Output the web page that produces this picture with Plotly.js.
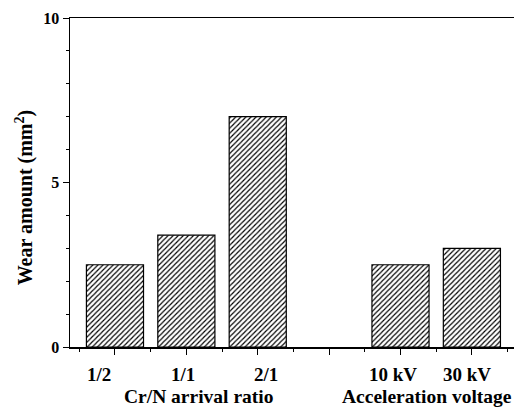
<!DOCTYPE html>
<html>
<head>
<meta charset="utf-8">
<script src="https://cdn.plot.ly/plotly-3.0.1.min.js"></script>
<style>html,body{margin:0;padding:0;background:#fff;}#chart{width:514px;height:407px;}</style>
</head>
<body>
<div id="chart"></div>
<script>
// Data
const categories = ['1/2', '1/1', '2/1', '', '10 kV', '30 kV'];
const wearAmount = [2.5, 3.4, 7.0, null, 2.5, 3.0];
const groupTitles = ['Cr/N arrival ratio', 'Acceleration voltage'];
const yTitle = 'Wear amount (mm<sup>2</sup>)';
const yTickVals = [0, 5, 10];

const positions = categories.map((c, i) => i);
const FONT = '"Liberation Serif", "Times New Roman", serif';

// label placement nudges (layout only), in category units
const labelShift = [-0.22, -0.05, 0.12, 0, -0.1, -0.07];
const groupCenters = [1.17, 4.37];

const trace = {
  type: 'bar',
  x: positions,
  y: wearAmount,
  width: 0.8,
  marker: {
    color: '#ffffff',
    line: {color: '#000000', width: 1.2},
    pattern: {shape: '/', size: 3.6, solidity: 0.33, fgcolor: '#000000', bgcolor: '#ffffff'}
  },
  hoverinfo: 'skip'
};

const labelFont = {family: FONT, size: 19, color: '#000', weight: 'bold'};
const groupFont = {family: FONT, size: 19.5, color: '#000', weight: 'bold'};
const annotations = [];
categories.forEach((c, i) => {
  if (c) annotations.push({text: c, xref: 'x', yref: 'paper', x: positions[i] + labelShift[i], y: 0, yshift: -27,
    xanchor: 'center', yanchor: 'middle', showarrow: false, font: labelFont});
});
groupTitles.forEach((t, i) => {
  annotations.push({text: t, xref: 'x', yref: 'paper', x: groupCenters[i], y: 0, yshift: -49,
    xanchor: 'center', yanchor: 'middle', showarrow: false, font: groupFont});
});
annotations.push({text: yTitle, xref: 'paper', yref: 'paper', x: 0, xshift: -46, y: 0.455,
  xanchor: 'center', yanchor: 'middle', textangle: -90, showarrow: false,
  font: {family: FONT, size: 20, color: '#000', weight: 'bold'}});

const layout = {
  width: 514,
  height: 407,
  margin: {l: 70, r: 0, t: 18, b: 60},
  paper_bgcolor: '#ffffff',
  plot_bgcolor: '#ffffff',
  showlegend: false,
  font: {family: FONT, color: '#000000'},
  xaxis: {
    range: [-0.63, 5.59],
    tickvals: positions,
    showticklabels: false,
    ticks: 'outside',
    ticklen: 6,
    tickwidth: 1,
    tickcolor: '#000',
    minor: {tick0: -0.5, dtick: 1, ticks: 'outside', ticklen: 3, tickwidth: 1, tickcolor: '#000'},
    showline: true,
    linecolor: '#000',
    linewidth: 1.5,
    mirror: true,
    showgrid: false,
    zeroline: false,
    fixedrange: true
  },
  yaxis: {
    range: [0, 10],
    tickvals: yTickVals,
    ticks: 'outside',
    ticklen: 6,
    tickwidth: 1,
    tickcolor: '#000',
    tickfont: {family: FONT, size: 16, color: '#000', weight: 'bold'},
    minor: {dtick: 1, ticks: 'outside', ticklen: 3, tickwidth: 1, tickcolor: '#000'},
    showline: true,
    linecolor: '#000',
    linewidth: 1.5,
    showgrid: false,
    zeroline: false,
    fixedrange: true
  },
  annotations: annotations
};

Plotly.newPlot('chart', [trace], layout, {displayModeBar: false, staticPlot: true});
</script>
</body>
</html>
